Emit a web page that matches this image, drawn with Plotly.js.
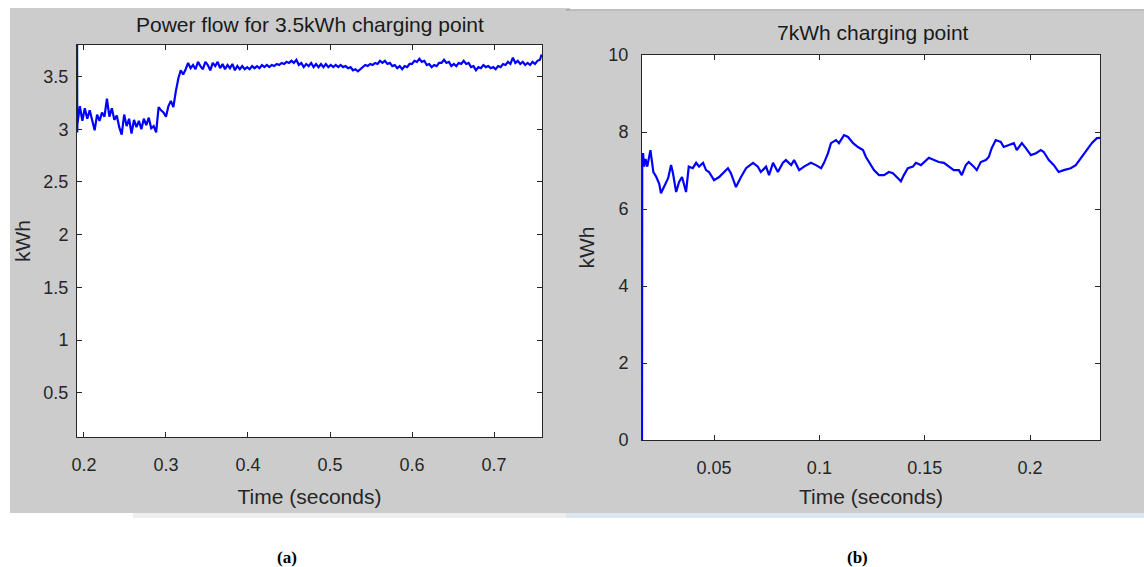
<!DOCTYPE html>
<html>
<head>
<meta charset="utf-8">
<script src="https://cdn.plot.ly/plotly-3.0.1.min.js"></script>
<style>html,body{margin:0;padding:0;background:#fff;}#chart{width:1144px;height:567px;}</style>
</head>
<body>
<div id="chart"></div>
<script>
// ---- Panel (a): Power flow for 3.5kWh charging point ----
const timeA = [0.1916,0.1918,
0.192,0.195,0.198,0.201,0.204,0.207,0.210,0.213,0.216,0.219,0.222,0.225,0.228,0.231,0.234,0.237,0.240,0.243,
0.246,0.249,0.252,0.255,0.258,0.261,0.264,0.267,0.270,0.273,0.276,0.279,0.282,0.285,0.288,0.291,0.294,0.297,
0.300,0.303,0.306,0.309,0.312,0.315,0.318,0.321,0.324,0.327,0.330,0.333,0.336,0.339,0.342,0.345,0.348,0.351,
0.354,0.357,0.360,0.363,0.366,0.369,0.372,0.375,0.378,0.381,0.384,0.387,0.390,0.393,0.396,0.399,0.402,0.405,
0.408,0.411,0.414,0.417,0.420,0.423,0.426,0.429,0.432,0.435,0.438,0.441,0.444,0.447,0.450,0.453,0.456,0.459,
0.462,0.465,0.468,0.471,0.474,0.477,0.480,0.483,0.486,0.489,0.492,0.495,0.498,0.501,0.504,0.507,0.510,0.513,
0.516,0.519,0.522,0.525,0.528,0.531,0.534,0.537,0.540,0.543,0.546,0.549,0.552,0.555,0.558,0.561,0.564,0.567,
0.570,0.573,0.576,0.579,0.582,0.585,0.588,0.591,0.594,0.597,0.600,0.603,0.606,0.609,0.612,0.615,0.618,0.621,
0.624,0.627,0.630,0.633,0.636,0.639,0.642,0.645,0.648,0.651,0.654,0.657,0.660,0.663,0.666,0.669,0.672,0.675,
0.678,0.681,0.684,0.687,0.690,0.693,0.696,0.699,0.702,0.705,0.708,0.711,0.714,0.717,0.720,0.723,0.726,0.729,
0.732,0.735,0.738,0.741,0.744,0.747,0.750,0.753,0.756,0.758];
const powerA = [3.82,2.97,
3.05,3.22,3.08,3.20,3.10,3.18,3.07,2.99,3.14,3.08,3.16,3.12,3.29,3.12,3.20,3.09,3.13,3.02,
2.95,3.14,3.03,3.10,2.96,3.09,3.02,3.08,3.00,3.10,3.04,3.11,3.01,3.03,2.97,3.21,3.18,3.16,
3.12,3.22,3.27,3.21,3.36,3.48,3.56,3.52,3.57,3.63,3.58,3.61,3.57,3.64,3.60,3.57,3.64,3.61,
3.56,3.63,3.60,3.64,3.58,3.62,3.57,3.61,3.58,3.62,3.56,3.60,3.57,3.60,3.57,3.59,3.57,3.60,
3.58,3.60,3.58,3.61,3.59,3.61,3.59,3.61,3.60,3.62,3.61,3.63,3.62,3.64,3.63,3.65,3.63,3.66,
3.61,3.63,3.59,3.62,3.60,3.63,3.59,3.62,3.59,3.62,3.59,3.62,3.59,3.61,3.59,3.61,3.59,3.61,
3.59,3.60,3.58,3.59,3.56,3.57,3.55,3.57,3.59,3.61,3.60,3.62,3.61,3.63,3.62,3.65,3.63,3.65,
3.62,3.63,3.60,3.61,3.58,3.60,3.57,3.60,3.59,3.62,3.62,3.65,3.64,3.67,3.64,3.65,3.61,3.62,
3.59,3.61,3.60,3.63,3.63,3.66,3.63,3.64,3.60,3.62,3.60,3.63,3.62,3.65,3.62,3.63,3.59,3.60,
3.56,3.59,3.58,3.61,3.59,3.60,3.58,3.59,3.57,3.60,3.59,3.62,3.61,3.64,3.62,3.68,3.63,3.65,
3.62,3.64,3.61,3.63,3.61,3.64,3.62,3.65,3.66,3.71];
const xTicksA = [0.2,0.3,0.4,0.5,0.6,0.7];
const yTicksA = [0.5,1,1.5,2,2.5,3,3.5];

// ---- Panel (b): 7kWh charging point ----
const timeB = [0.0158,0.0159,0.0163,0.0168,0.0175,0.0183,0.0198,0.0205,0.0212,0.0226,0.0240,0.0248,0.0262,
0.0282,0.0296,0.0305,0.0320,0.0334,0.0348,0.0358,0.0367,0.0380,0.0399,0.0415,0.0429,0.0448,0.0462,0.0476,
0.0500,0.0524,0.0547,0.0566,0.0580,0.0604,0.0628,0.0652,0.0685,0.0708,0.0722,0.0747,0.0761,0.0780,0.0803,
0.0827,0.0841,0.0866,0.0880,0.0904,0.0927,0.0960,0.0984,0.1008,0.1022,0.1041,0.1055,0.1079,0.1093,0.1117,
0.1136,0.1160,0.1183,0.1207,0.1221,0.1236,0.1259,0.1283,0.1307,0.1330,0.1349,0.1373,0.1387,0.1401,0.1420,
0.1444,0.1458,0.1482,0.1496,0.1520,0.1544,0.1567,0.1591,0.1615,0.1638,0.1662,0.1676,0.1695,0.1709,0.1733,
0.1747,0.1766,0.1790,0.1804,0.1818,0.1837,0.1861,0.1875,0.1899,0.1923,0.1937,0.1961,0.1980,0.2004,0.2028,
0.2051,0.2065,0.2089,0.2113,0.2136,0.2160,0.2193,0.2217,0.2241,0.2269,0.2293,0.2317,0.2332];
const powerB = [0.00,7.20,7.45,7.10,7.30,7.10,7.53,7.27,6.96,6.83,6.65,6.41,6.57,
6.80,7.14,6.93,6.44,6.70,6.83,6.62,6.44,7.10,7.06,7.20,7.10,7.20,7.01,6.96,
6.75,6.83,6.96,7.06,6.93,6.57,6.83,7.06,7.20,7.10,6.96,7.10,6.88,7.20,6.96,
7.20,7.27,7.14,7.27,7.01,7.10,7.20,7.14,7.06,7.20,7.45,7.71,7.79,7.71,7.92,
7.87,7.71,7.61,7.53,7.35,7.20,7.01,6.88,6.88,6.96,6.93,6.80,6.72,6.88,7.06,
7.10,7.20,7.14,7.22,7.33,7.27,7.22,7.20,7.10,7.01,7.01,6.88,7.14,7.22,7.10,
7.01,7.22,7.27,7.35,7.58,7.79,7.74,7.61,7.66,7.71,7.53,7.71,7.58,7.40,7.45,
7.53,7.48,7.27,7.14,6.96,7.01,7.06,7.14,7.33,7.53,7.71,7.84,7.85];
const xTicksB = [0.05,0.1,0.15,0.2];
const xTickTextB = ["0.05","0.1","0.15","0.2"];
const yTicksB = [0,2,4,6,8,10];

const titleA = "Power flow for 3.5kWh charging point";
const titleB = "7kWh charging point";
const xLabel = "Time (seconds)";
const yLabel = "kWh";

// ---- layout helpers (pixel -> paper) ----
const W = 1144, H = 567;
const px = v => v / W;
const py = v => 1 - v / H;
const txt = '#262626';
const sans = 'Liberation Sans, Arial, sans-serif';

function axisStyle(extra) {
  return Object.assign({
    showline: true, linecolor: txt, linewidth: 1, mirror: 'ticks',
    ticks: 'inside', ticklen: 5, tickwidth: 1, tickcolor: txt,
    showgrid: false, zeroline: false, automargin: false,
    tickfont: {family: sans, size: 18, color: txt}
  }, extra);
}

const traces = [
  {x: timeA, y: powerA, type: 'scatter', mode: 'lines', xaxis: 'x', yaxis: 'y',
   line: {color: '#0000ff', width: 2.2}, hoverinfo: 'skip'},
  {x: timeB, y: powerB, type: 'scatter', mode: 'lines', xaxis: 'x2', yaxis: 'y2',
   line: {color: '#0000ff', width: 2.2}, hoverinfo: 'skip'}
];

const layout = {
  width: W, height: H,
  margin: {l: 0, r: 0, t: 0, b: 0},
  paper_bgcolor: '#ffffff', plot_bgcolor: '#ffffff',
  showlegend: false,
  xaxis: axisStyle({domain: [px(77), px(542)], range: [0.1915, 0.7585], tickvals: xTicksA,
    anchor: 'y', ticklabelstandoff: 11,
    title: {text: xLabel, font: {family: sans, size: 21, color: txt}, standoff: 15}}),
  yaxis: axisStyle({domain: [py(437), py(45)], range: [0.08, 3.8], tickvals: yTicksA,
    anchor: 'x', ticklabelstandoff: 4,
    title: {text: yLabel, font: {family: sans, size: 21, color: txt}, standoff: 7}}),
  xaxis2: axisStyle({domain: [px(642), px(1100)], range: [0.0158, 0.2332], tickvals: xTicksB,
    ticktext: xTickTextB, anchor: 'y2', ticklabelstandoff: 11,
    title: {text: xLabel, font: {family: sans, size: 21, color: txt}, standoff: 12}}),
  yaxis2: axisStyle({domain: [py(440), py(55)], range: [0, 10], tickvals: yTicksB,
    anchor: 'x2', ticklabelstandoff: 9,
    title: {text: yLabel, font: {family: sans, size: 21, color: txt}, standoff: 8}}),
  shapes: [
    // figure backgrounds
    {type: 'rect', xref: 'paper', yref: 'paper', x0: px(10), x1: px(570), y0: py(513), y1: py(8),
     fillcolor: '#cccccc', line: {width: 0}, layer: 'below'},
    {type: 'rect', xref: 'paper', yref: 'paper', x0: px(566), x1: px(1144), y0: py(513), y1: py(11),
     fillcolor: '#cccccc', line: {width: 0}, layer: 'below'},
    {type: 'line', xref: 'paper', yref: 'paper', x0: px(566), x1: px(1144), y0: py(10), y1: py(10),
     line: {color: '#a8a8a8', width: 1.5}, layer: 'below'},
    {type: 'rect', xref: 'paper', yref: 'paper', x0: px(566), x1: px(1144), y0: py(518), y1: py(513),
     fillcolor: '#dbe6f1', line: {width: 0}, layer: 'below'},
    {type: 'rect', xref: 'paper', yref: 'paper', x0: px(133), x1: px(566), y0: py(518), y1: py(513),
     fillcolor: '#eeeeee', line: {width: 0}, layer: 'below'},
    // white plotting areas
    {type: 'rect', xref: 'paper', yref: 'paper', x0: px(77), x1: px(542), y0: py(437), y1: py(45),
     fillcolor: '#ffffff', line: {width: 0}, layer: 'below'},
    {type: 'rect', xref: 'paper', yref: 'paper', x0: px(642), x1: px(1100), y0: py(440), y1: py(55),
     fillcolor: '#ffffff', line: {width: 0}, layer: 'below'}
  ],
  annotations: [
    {text: titleA, xref: 'paper', yref: 'paper', x: px(310), y: py(25), xanchor: 'center', yanchor: 'middle',
     showarrow: false, font: {family: sans, size: 21, color: '#1a1a1a'}},
    {text: titleB, xref: 'paper', yref: 'paper', x: px(873), y: py(32), xanchor: 'center', yanchor: 'middle',
     showarrow: false, font: {family: sans, size: 21, color: '#1a1a1a'}},
    {text: '<b>(a)</b>', xref: 'paper', yref: 'paper', x: px(287), y: py(557), xanchor: 'center', yanchor: 'middle',
     showarrow: false, font: {family: 'Liberation Serif, Times New Roman, serif', size: 17, color: '#000'}},
    {text: '<b>(b)</b>', xref: 'paper', yref: 'paper', x: px(857), y: py(557), xanchor: 'center', yanchor: 'middle',
     showarrow: false, font: {family: 'Liberation Serif, Times New Roman, serif', size: 17, color: '#000'}}
  ]
};

Plotly.newPlot('chart', traces, layout, {displayModeBar: false, staticPlot: true});
</script>
</body>
</html>
